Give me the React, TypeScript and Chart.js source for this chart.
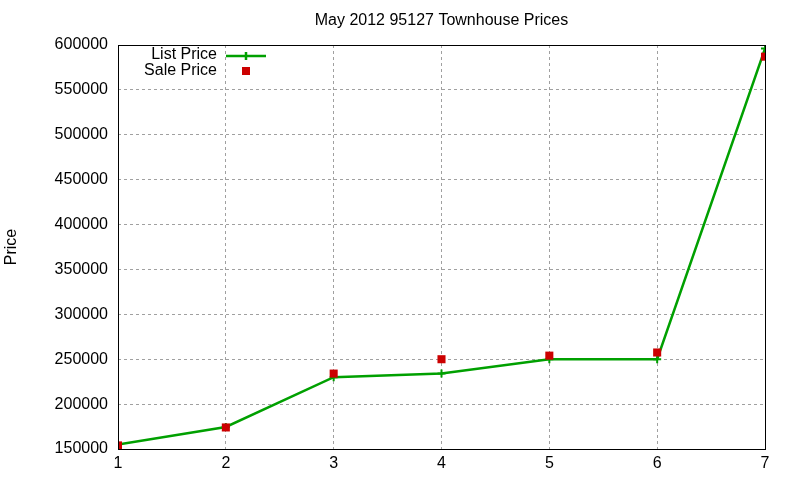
import React, { useEffect, useRef } from "react";
import { Chart, registerables } from "chart.js";

Chart.register(...registerables);

const categories = [1, 2, 3, 4, 5, 6, 7];
const listPrice = [155000, 174500, 230000, 234000, 250000, 250000, 596000];
const salePrice = [154000, 174000, 234000, 250000, 254000, 257500, 587000];
const yTicks = [150000, 200000, 250000, 300000, 350000, 400000, 450000, 500000, 550000, 600000];

const TITLE = "May 2012 95127 Townhouse Prices";
const YLABEL = "Price";
const LIST_LABEL = "List Price";
const SALE_LABEL = "Sale Price";

const GREEN = "#00a000";
const RED = "#cc0000";
const FONT = "Liberation Sans, Arial, sans-serif";

const decorPlugin = {
  id: "decor",
  afterDraw(chart: any) {
    const ctx = chart.ctx;
    const area = chart.chartArea;
    ctx.save();
    // border
    ctx.strokeStyle = "#000";
    ctx.lineWidth = 1;
    ctx.setLineDash([]);
    ctx.strokeRect(Math.round(area.left) + 0.5, Math.round(area.top) + 0.5, Math.round(area.right - area.left), Math.round(area.bottom - area.top));
    // title
    ctx.fillStyle = "#000";
    ctx.font = `16px ${FONT}`;
    ctx.textAlign = "center";
    ctx.textBaseline = "middle";
    ctx.fillText(TITLE, (area.left + area.right) / 2, 21);
    // y label
    ctx.save();
    ctx.translate(12, (area.top + area.bottom) / 2);
    ctx.rotate(-Math.PI / 2);
    ctx.fillText(YLABEL, 0, 0);
    ctx.restore();
    // legend
    ctx.font = `16px ${FONT}`;
    ctx.textAlign = "right";
    ctx.fillText(LIST_LABEL, 217, 55);
    ctx.fillText(SALE_LABEL, 217, 71);
    ctx.strokeStyle = GREEN;
    ctx.lineWidth = 2.5;
    ctx.beginPath();
    ctx.moveTo(226, 56);
    ctx.lineTo(266, 56);
    ctx.moveTo(246, 52);
    ctx.lineTo(246, 60);
    ctx.stroke();
    ctx.fillStyle = RED;
    ctx.fillRect(242, 67, 8, 8);
    ctx.restore();
  },
};

export default function App() {
  const ref = useRef<HTMLCanvasElement>(null);
  useEffect(() => {
    document.body.style.margin = "0";
    const chart = new Chart(ref.current as HTMLCanvasElement, {
      type: "line",
      data: {
        labels: categories,
        datasets: [
          {
            label: LIST_LABEL,
            data: categories.map((c, i) => ({ x: c, y: listPrice[i] })),
            borderColor: GREEN,
            backgroundColor: GREEN,
            borderWidth: 2.5,
            pointStyle: "cross",
            pointRadius: 4,
            pointBorderWidth: 2,
            pointBorderColor: GREEN,
            tension: 0,
            order: 1,
          },
          {
            label: SALE_LABEL,
            data: categories.map((c, i) => ({ x: c, y: salePrice[i] })),
            showLine: false,
            borderColor: RED,
            backgroundColor: RED,
            pointStyle: "rect",
            pointRadius: 5.7,
            pointBorderWidth: 0,
            order: 0,
          },
        ],
      },
      options: {
        animation: false,
        responsive: false,
        maintainAspectRatio: false,
        layout: { padding: { top: 45, right: 35, left: 0, bottom: 0 } },
        plugins: {
          legend: { display: false },
          title: { display: false },
          tooltip: { enabled: false },
        },
        scales: {
          x: {
            type: "linear",
            min: 1,
            max: 7,
            afterFit(scale: any) {
              scale.height = 31;
            },
            afterBuildTicks(scale: any) {
              scale.ticks = categories.map((v) => ({ value: v }));
            },
            grid: {
              color: "#a0a0a0",
              lineWidth: 1,
              drawTicks: false,
              tickLength: 0,
            },
            border: { display: false, dash: [3, 3] },
            ticks: {
              color: "#000",
              font: { family: FONT, size: 16 },
              padding: 5,
              maxRotation: 0,
              autoSkip: false,
            },
          },
          y: {
            type: "linear",
            min: 150000,
            max: 600000,
            afterFit(scale: any) {
              scale.width = 118;
            },
            afterBuildTicks(scale: any) {
              scale.ticks = yTicks.map((v) => ({ value: v }));
            },
            grid: {
              color: "#a0a0a0",
              lineWidth: 1,
              drawTicks: false,
              tickLength: 0,
            },
            border: { display: false, dash: [3, 3] },
            ticks: {
              color: "#000",
              font: { family: FONT, size: 16 },
              padding: 10,
              autoSkip: false,
              callback: (v: any) => String(v),
            },
          },
        },
      },
      plugins: [decorPlugin],
    });
    return () => chart.destroy();
  }, []);
  return (
    <div style={{ width: 800, height: 480 }}>
      <canvas ref={ref} width={800} height={480} style={{ display: "block" }} />
    </div>
  );
}
